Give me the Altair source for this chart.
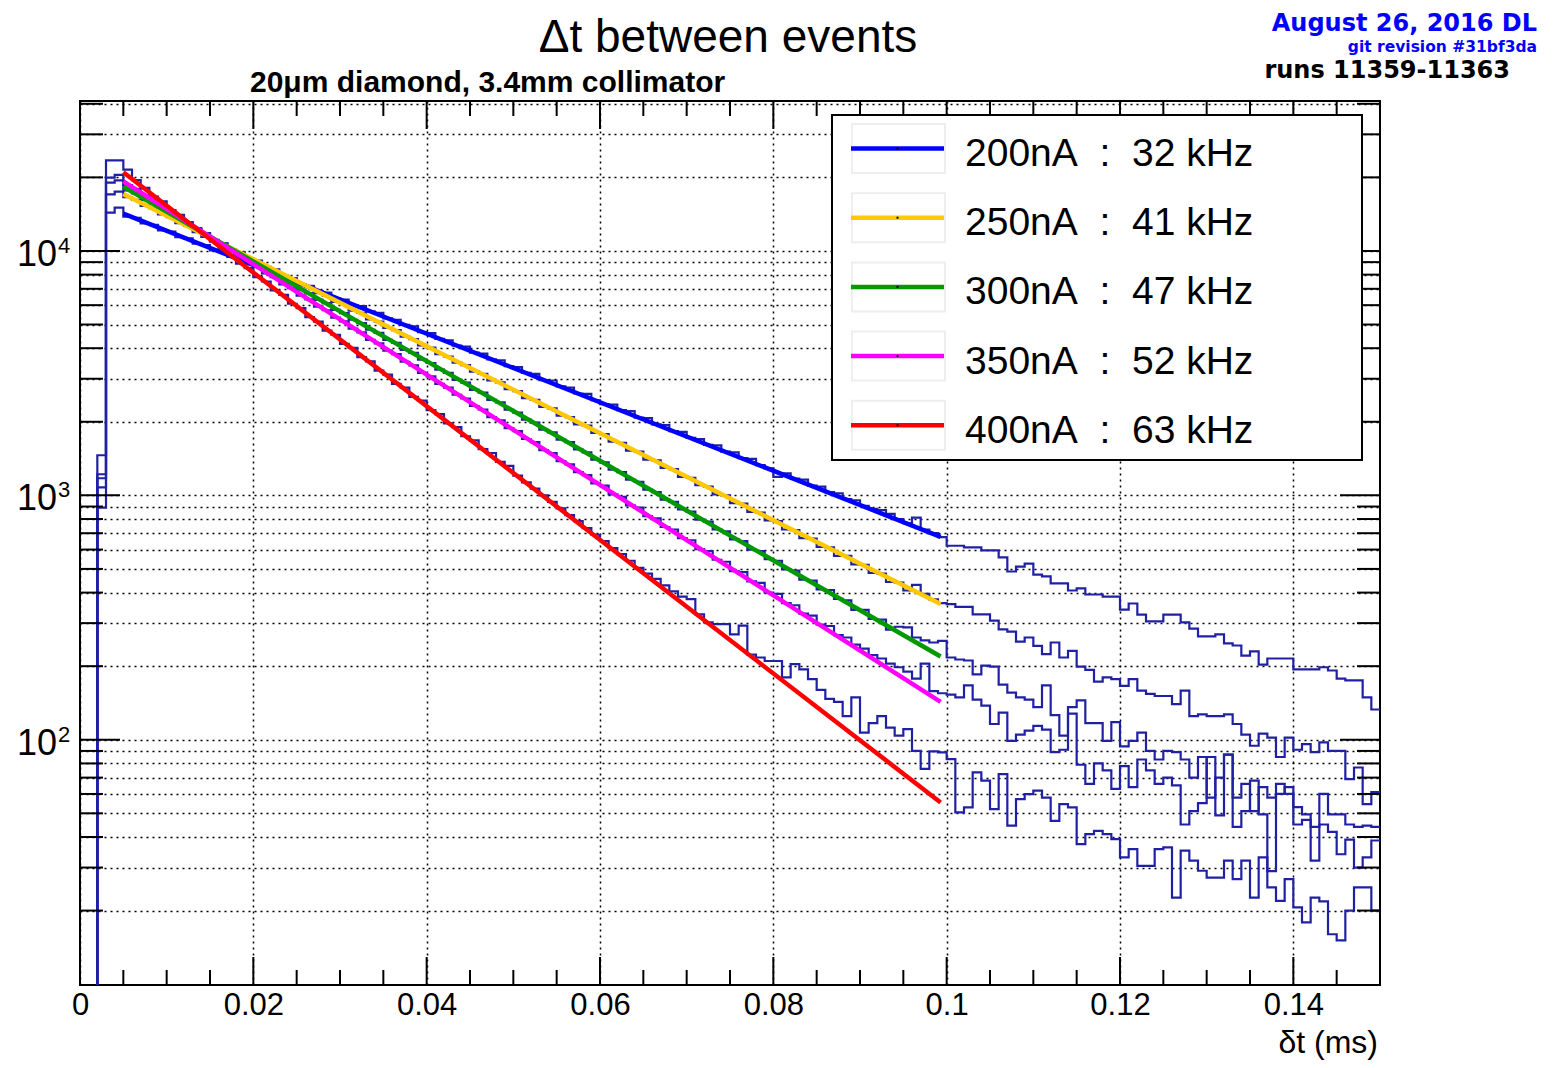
import altair as alt
import pandas as pd

# ---------------- data ----------------
BIN_WIDTH = 0.001   # ms
N_BINS = 150

currents = ["200nA", "250nA", "300nA", "350nA", "400nA"]
rates = ["32 kHz", "41 kHz", "47 kHz", "52 kHz", "63 kHz"]
fit_colors = ["#0000ff", "#ffc800", "#009900", "#ff00ff", "#ff0000"]

counts_200nA = [
    0, 0, 891, 14340, 15040, 13800, 13650, 12950, 12800, 12150,
    12000, 11400, 11250, 10700, 10560, 10050, 9900, 9460, 9300, 8850,
    8700, 8320, 8180, 7800, 7680, 7320, 7200, 6850, 6760, 6420,
    6330, 6010, 5950, 5660, 5580, 5300, 5230, 4980, 4920, 4650,
    4610, 4370, 4310, 4100, 4060, 3840, 3800, 3600, 3570, 3380,
    3350, 3170, 3140, 2960, 2950, 2790, 2760, 2610, 2600, 2450,
    2360, 2350, 2230, 2210, 2080, 2070, 1950, 1940, 1830, 1820,
    1720, 1700, 1610, 1600, 1510, 1500, 1420, 1410, 1330, 1290,
    1190, 1230, 1170, 1160, 1095, 1085, 1030, 1020, 965, 955,
    905, 880, 870, 840, 800, 770, 811, 725, 700, 675,
    622, 622, 612, 612, 596, 596, 557, 488, 511, 526,
    474, 466, 436, 436, 408, 416, 393, 393, 385, 385,
    341, 361, 325, 305, 305, 325, 325, 302, 285, 265,
    265, 270, 248, 243, 221, 230, 203, 215, 215, 215,
    194, 194, 194, 198, 192, 178, 175, 175, 149, 133,
]
counts_250nA = [
    0, 0, 1077, 17040, 17480, 16600, 16200, 15300, 14950, 14100,
    13750, 12980, 12650, 11950, 11680, 11020, 10750, 10150, 9900, 9350,
    9120, 8600, 8400, 7930, 7740, 7300, 7130, 6720, 6570, 6190,
    6060, 5700, 5580, 5250, 5140, 4840, 4740, 4460, 4360, 4110,
    4020, 3780, 3700, 3490, 3410, 3210, 3140, 2950, 2900, 2720,
    2670, 2500, 2460, 2300, 2270, 2120, 2090, 1950, 1930, 1800,
    1780, 1660, 1640, 1525, 1510, 1400, 1390, 1295, 1280, 1190,
    1180, 1100, 1085, 1010, 1000, 930, 925, 855, 850, 790,
    785, 725, 720, 668, 665, 615, 612, 565, 566, 522,
    520, 482, 478, 442, 440, 408, 430, 395, 375, 362,
    359, 350, 350, 326, 326, 307, 283, 277, 252, 262,
    242, 224, 250, 217, 231, 199, 193, 173, 180, 177,
    166, 177, 159, 154, 151, 151, 140, 159, 125, 127,
    125, 125, 127, 116, 105, 94.5, 106, 102, 85, 102,
    91, 96, 89, 97.5, 90, 90, 69, 77, 54.5, 61,
]
counts_300nA = [
    0, 0, 1175, 19020, 19450, 17700, 17200, 16150, 15650, 14700,
    14250, 13380, 12960, 12180, 11800, 11090, 10740, 10090, 9780, 9190,
    8900, 8370, 8100, 7620, 7380, 6930, 6720, 6310, 6120, 5740,
    5570, 5230, 5070, 4760, 4620, 4330, 4210, 3940, 3830, 3590,
    3480, 3270, 3170, 2970, 2890, 2700, 2630, 2460, 2400, 2240,
    2180, 2040, 1985, 1855, 1810, 1690, 1650, 1540, 1500, 1400,
    1365, 1275, 1245, 1160, 1135, 1055, 1030, 960, 940, 875,
    858, 795, 780, 725, 712, 660, 650, 600, 592, 548,
    540, 498, 492, 452, 448, 412, 410, 377, 372, 340,
    340, 312, 310, 282, 290, 288, 262, 255, 250, 254,
    217, 213, 211, 185, 201, 199, 168, 156, 149, 146,
    136, 167, 126, 104, 136, 145, 117, 117, 99, 118,
    94, 99, 107, 90, 83, 90, 89, 83, 70, 85,
    58, 70, 87, 58, 66, 51, 64, 58, 60, 64,
    53, 49.5, 44, 60, 49.5, 49.5, 45, 44, 44.5, 44,
]
counts_350nA = [
    0, 0, 1220, 19940, 20460, 18600, 17950, 16780, 16180, 15120,
    14580, 13620, 13130, 12270, 11840, 11060, 10670, 9970, 9620, 8990,
    8670, 8100, 7810, 7290, 7040, 6570, 6340, 5920, 5720, 5340,
    5150, 4810, 4640, 4330, 4190, 3910, 3780, 3520, 3400, 3170,
    3070, 2860, 2760, 2580, 2490, 2320, 2245, 2090, 2025, 1885,
    1830, 1700, 1650, 1530, 1490, 1380, 1340, 1245, 1210, 1120,
    1095, 1010, 985, 910, 890, 822, 805, 742, 725, 668,
    655, 603, 592, 545, 535, 490, 485, 445, 438, 400,
    395, 362, 355, 328, 322, 296, 292, 268, 262, 245,
    236, 222, 215, 205, 198, 190, 178, 205, 158, 155,
    153, 149, 167, 146, 138, 116, 129, 99, 105, 109,
    114, 110, 89, 91, 128, 79, 66, 80, 75, 63,
    78, 64, 83, 75, 66, 70, 65, 45, 51, 55,
    85, 49, 87, 44, 51, 68, 49.5, 29, 66, 60,
    45, 47, 32, 45, 42, 34, 39, 30, 33, 38.7,
]
counts_400nA = [
    0, 0, 1459, 23480, 23480, 21500, 19500, 18100, 16700, 15950,
    14700, 14050, 12950, 12400, 11420, 10920, 10060, 9640, 8870, 8500,
    7820, 7500, 6890, 6610, 6080, 5830, 5360, 5140, 4720, 4540,
    4170, 4010, 3680, 3530, 3240, 3120, 2860, 2760, 2530, 2440,
    2230, 2150, 1970, 1900, 1745, 1680, 1545, 1490, 1370, 1320,
    1205, 1130, 1065, 1000, 940, 885, 830, 785, 735, 690,
    650, 608, 575, 540, 505, 478, 455, 428, 405, 385,
    376, 326, 302, 297, 297, 270, 293, 223, 217, 210,
    210, 180, 204, 194, 177, 160, 147, 143, 125, 149,
    107, 117, 125, 112, 104, 110.5, 90, 76, 89.6, 88.7,
    83.3, 50.4, 52.9, 73.5, 68, 52, 72.3, 44.5, 57.2, 59.9,
    61.9, 58, 46.6, 54.5, 52.9, 37.4, 41.1, 42.4, 41.1, 39.2,
    33, 35.7, 30.5, 30.5, 35.7, 36.3, 22.6, 35.2, 32, 29.1,
    27.3, 27.3, 32, 26.9, 32, 22.6, 33, 24.9, 21.9, 26.9,
    20.6, 17.9, 22.6, 21.8, 16, 15.1, 20, 24.9, 24.9, 20,
]
all_counts = [counts_200nA, counts_250nA, counts_300nA, counts_350nA, counts_400nA]

# exponential fits (straight on the log axis): value at start and end of fit range
fit_x = [0.005, 0.0993]
fit_200nA = [14210, 676]
fit_250nA = [17090, 359]
fit_300nA = [18310, 219]
fit_350nA = [19250, 143]
fit_400nA = [20980, 55.4]
all_fits = [fit_200nA, fit_250nA, fit_300nA, fit_350nA, fit_400nA]

x_major = [0, 0.02, 0.04, 0.06, 0.08, 0.10, 0.12, 0.14]
x_minor = [round(0.005 * i, 3) for i in range(1, 30) if i % 4 != 0]
y_major = [100, 1000, 10000]
y_minor = [m * d for d in (10, 100, 1000) for m in range(2, 10)] + [20000, 30000, 40000]
y_label_exp = ["2", "3", "4"]

# ---------------- layout constants ----------------
W, H = 1300, 884
PAD_TOP, PAD_LEFT = 93, 72
PAGE_TOP = PAD_TOP + 8          # page y of the frame top
FONT = "Liberation Sans"
HEAD_FONT = "DejaVu Sans"
HIST_COLOR = "#2020a4"
GRID = dict(gridColor="black", gridDash=[2, 4], gridWidth=1.5, gridOpacity=1)


def py(page_y):
    """page y -> plot y"""
    return page_y - PAGE_TOP


x_scale = alt.Scale(domain=[0, 0.15], nice=False, zero=False)
y_scale = alt.Scale(type="log", domain=[9.92, 41070], nice=False)

x_axis = alt.Axis(values=x_major, labelExpr="datum.value == 0 ? '0' : format(datum.value, '.2~f')",
                  labelFontSize=31, labelFont=FONT, labelColor="black", labelPadding=5,
                  labelFlush=False, labelOverlap=False, labelBound=False,
                  ticks=False, tickSize=0, domain=False, grid=True, title=None, **GRID)
y_axis = alt.Axis(values=y_major + y_minor, labels=False, ticks=False, tickSize=0, domain=False,
                  grid=True, title=None, **GRID)

# ---------------- frames ----------------
hist_rows = []
for name, counts in zip(currents, all_counts):
    for i, c in enumerate(counts):
        hist_rows.append({"series": name, "x": i * BIN_WIDTH, "count": max(c, 1.0)})
    hist_rows.append({"series": name, "x": N_BINS * BIN_WIDTH, "count": max(counts[-1], 1.0)})
hist_df = pd.DataFrame(hist_rows)

fit_rows = []
for k, (name, vals) in enumerate(zip(currents, all_fits)):
    for xv, v in zip(fit_x, vals):
        fit_rows.append({"series": name, "order": k, "x": xv, "value": v})
fit_df = pd.DataFrame(fit_rows)


def X(field):
    return alt.X(field, scale=x_scale, axis=x_axis)


def Y(field):
    return alt.Y(field, scale=y_scale, axis=y_axis)


hist = alt.Chart(hist_df).mark_line(interpolate="step-after", clip=True, color=HIST_COLOR,
                                    strokeWidth=2.2).encode(
    x=X("x:Q"), y=Y("count:Q"), detail="series:N",
)

fits = alt.Chart(fit_df).mark_line(clip=True, strokeWidth=4.5).encode(
    x=X("x:Q"), y=Y("value:Q"),
    color=alt.Color("series:N", scale=alt.Scale(domain=currents, range=fit_colors), legend=None),
    detail="order:Q",
)


# inward ROOT-style ticks on all four sides
def yticks(vals, length):
    df = pd.DataFrame({"v": vals})
    base = alt.Chart(df).mark_rule(color="black", strokeWidth=2)
    return [base.encode(y=Y("v:Q"), x=alt.value(0), x2=alt.value(length)),
            base.encode(y=Y("v:Q"), x=alt.value(W - length), x2=alt.value(W))]


def xticks(vals, length):
    df = pd.DataFrame({"v": vals})
    base = alt.Chart(df).mark_rule(color="black", strokeWidth=2)
    return [base.encode(x=X("v:Q"), y=alt.value(H - length), y2=alt.value(H)),
            base.encode(x=X("v:Q"), y=alt.value(0), y2=alt.value(length))]


tick_layers = yticks(y_major, 40) + yticks(y_minor, 23) + xticks(x_major[1:], 28) + xticks(x_minor, 15)

ylab_df = pd.DataFrame({"v": y_major, "mant": ["10"] * 3, "exp": y_label_exp})
ylab_base = alt.Chart(ylab_df).mark_text(align="right", baseline="alphabetic", fontSize=36, font=FONT,
                                         color="black", dy=15).encode(
    x=alt.value(-23), y=Y("v:Q"), text="mant:N")
ylab_exp = alt.Chart(ylab_df).mark_text(align="left", baseline="alphabetic", fontSize=22, font=FONT,
                                        color="black", dy=2).encode(
    x=alt.value(-22), y=Y("v:Q"), text="exp:N")

one = pd.DataFrame({"a": [0]})


def text(t, x, y, size, align="left", weight="normal", color="black", font=FONT):
    return alt.Chart(one).mark_text(text=t, align=align, baseline="alphabetic", fontSize=size,
                                    font=font, fontWeight=weight, color=color).encode(
        x=alt.value(x), y=alt.value(y))


texts = [
    text("\u0394t between events", 648, py(52), 46, align="center"),
    text("20\u03bcm diamond, 3.4mm collimator", 170, py(92), 30, weight="bold"),
    text("August 26, 2016 DL", 1457, py(31), 24, align="right", weight="bold", color="#0000ff",
         font=HEAD_FONT),
    text("git revision #31bf3da", 1457, py(52), 15.5, align="right", weight="bold", color="#0000ff",
         font=HEAD_FONT),
    text("runs 11359-11363", 1430, py(78), 24, align="right", weight="bold", font=HEAD_FONT),
    text("\u03b4t (ms)", 1298, py(1053), 32, align="right"),
]

# legend box (page coordinates of the reference, converted to plot coordinates)
legend_layers = [
    alt.Chart(one).mark_rect(fill="white", stroke="black", strokeWidth=2).encode(
        x=alt.value(752), x2=alt.value(1282), y=alt.value(py(115)), y2=alt.value(py(460)))
]
ROW = 69.2
for i, (cur, rate, col) in enumerate(zip(currents, rates, fit_colors)):
    y0 = i * ROW
    legend_layers.append(alt.Chart(one).mark_rect(fill="white", stroke="#eeeeee", strokeWidth=2).encode(
        x=alt.value(772), x2=alt.value(865), y=alt.value(py(124) + y0), y2=alt.value(py(173) + y0)))
    legend_layers.append(alt.Chart(one).mark_rule(color=col, strokeWidth=4.5).encode(
        x=alt.value(771), x2=alt.value(864), y=alt.value(py(148.5) + y0)))
    legend_layers.append(alt.Chart(one).mark_square(color="black", size=4, opacity=1).encode(
        x=alt.value(817.5), y=alt.value(py(148.5) + y0)))
    legend_layers.append(text(cur + "\u00a0\u00a0:\u00a0\u00a0" + rate, 885, py(166) + y0, 39))

chart = alt.layer(hist, fits, *tick_layers, ylab_base, ylab_exp, *legend_layers, *texts).properties(
    width=W, height=H,
    autosize=alt.AutoSizeParams(type="none"),
    padding={"left": PAD_LEFT, "top": PAD_TOP, "right": 166, "bottom": 1052 - PAD_TOP - H},
    background="white",
).configure_view(stroke="black", strokeWidth=2)

chart.save("out.html", embed_options={"renderer": "svg", "actions": False})
